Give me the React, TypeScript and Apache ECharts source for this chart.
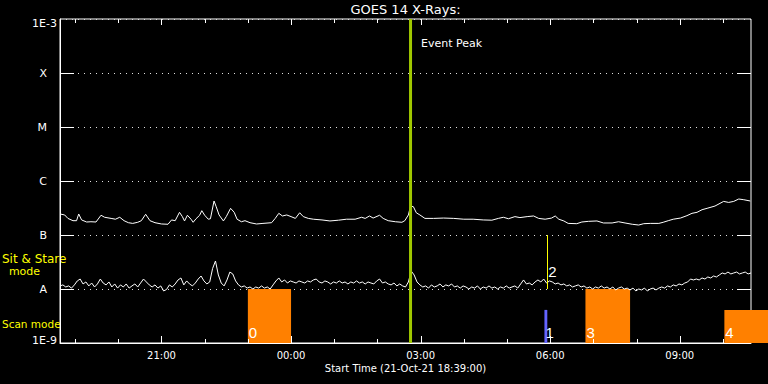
import { useEffect, useRef } from "react";
import * as echarts from "echarts";

// ---- axis definitions (x in minutes since start 21-Oct-21 18:39 UT) ----
const X_MIN = 0;
const X_MAX = 960;
const MAJOR_TICKS = [141, 321, 501, 681, 861];
const MAJOR_LABELS = ["21:00", "00:00", "03:00", "06:00", "09:00"];
const MINOR_TICKS = [21, 81, 201, 261, 381, 441, 561, 621, 741, 801, 921];
const Y_MIN = 1e-9;
const Y_MAX = 1e-3;
const Y_EXPONENTS = [-9, -8, -7, -6, -5, -4, -3];
const Y_LABELS = ["1E-9", "A", "B", "C", "M", "X", "1E-3"];

// ---- long channel (1-8 A), [minute, flux in 1e-7 W/m^2] ----
const LONG_CHANNEL_E7: [number, number][] = [
  [0, 2.45], [6.5, 2.35], [11, 2.03], [18, 1.84], [23, 1.84], [26, 2.45], [30, 1.9], [37, 1.74],
  [43, 1.76], [50, 1.74], [57, 2.32], [62, 2.13], [71, 2.03], [77, 1.96], [83, 2.13], [89, 1.84],
  [95, 1.69], [101, 1.64], [108, 1.72], [113, 1.84], [119, 2.42], [125, 1.84], [132, 1.69],
  [141, 1.6], [150, 1.58], [155, 1.9], [160, 1.84], [166, 2.63], [170, 2.19], [173, 1.82],
  [177, 2.32], [182, 1.96], [185, 1.72], [189, 2.0], [194, 2.32], [197, 2.82], [201, 2.32],
  [206, 1.96], [209, 2.0], [214, 4.26], [217, 3.34], [221, 2.35], [227, 1.82], [231, 2.19],
  [237, 3.12], [242, 2.63], [246, 1.96], [252, 1.76], [257, 1.84], [264, 1.69], [273, 1.6],
  [282, 1.64], [294, 1.69], [299, 2.03], [304, 2.52], [309, 2.25], [315, 2.35], [321, 2.19],
  [327, 2.03], [333, 2.58], [338, 2.19], [345, 2.03], [352, 1.96], [364, 1.9], [375, 1.82],
  [387, 1.88], [398, 1.96], [410, 1.96], [419, 2.13], [424, 2.03], [430, 2.25], [435, 2.06],
  [444, 2.32], [449, 2.03], [456, 1.84], [466, 1.76], [475, 1.72], [479, 1.84], [484, 2.35],
  [487, 3.44], [491, 3.34], [495, 2.58], [500, 2.35], [507, 2.03], [519, 2.03], [533, 2.06],
  [547, 2.03], [561, 1.96], [574, 1.96], [588, 1.9], [600, 1.88], [609, 2.03], [616, 2.13],
  [623, 2.0], [632, 2.19], [639, 2.1], [649, 2.19], [658, 2.25], [665, 2.03], [674, 1.96],
  [683, 2.06], [688, 2.25], [693, 1.96], [700, 1.82], [706, 1.64], [718, 1.62], [725, 1.74],
  [734, 1.79], [746, 1.82], [755, 1.67], [767, 1.67], [776, 1.76], [785, 1.67], [795, 1.58],
  [804, 1.53], [811, 1.62], [820, 1.64], [832, 1.64], [838, 1.72], [845, 1.84], [852, 1.96],
  [862, 2.06], [871, 2.28], [878, 2.52], [885, 2.63], [892, 2.94], [899, 3.12], [910, 3.44],
  [922, 4.19], [929, 4.01], [936, 4.19], [943, 4.64], [950, 4.5], [959, 4.26],
];

// ---- short channel (0.5-4 A), one sample every 4 minutes, flux in 1e-8 W/m^2 ----
const SHORT_CADENCE_MIN = 4;
const SHORT_CHANNEL_E8 = [
  1.14, 1.19, 1.09, 1.14, 1.04, 1.19, 1.41, 1.53, 1.24, 1.35,
  1.14, 1.29, 1.09, 1.24, 1.53, 1.29, 1.19, 1.35, 1.09, 1.24,
  1.04, 1.19, 1.09, 1.24, 1.04, 1.14, 1.24, 1.09, 1.29, 1.53,
  1.35, 1.19, 1.09, 1.19, 1.04, 1.14,
  0.92, 0.98, 1.19, 1.09,
  1.24, 1.47, 1.6, 1.19, 1.41, 1.24, 1.14, 1.29, 1.53, 1.74,
  1.41, 1.24, 1.35, 2.4, 3.3, 1.82, 1.29, 1.14, 1.47, 2.06,
  1.9, 1.41, 1.19, 1.09, 1.14, 1.04, 1.09, 1.0, 1.09, 1.04,
  1.14, 1.04, 1.09, 1.0, 1.19, 1.41, 1.6, 1.35, 1.47, 1.29,
  1.41, 1.35, 1.29, 1.41, 1.35, 1.29, 1.41, 1.35, 1.47, 1.53,
  1.35, 1.29, 1.41, 1.35, 1.24, 1.35, 1.29, 1.41, 1.29, 1.35,
  1.24, 1.35, 1.29, 1.41, 1.29, 1.35, 1.24, 1.35, 1.29, 1.24,
  1.41, 1.53, 1.29, 1.35, 1.24, 1.19, 1.29, 1.14, 1.24, 1.14,
  1.09, 1.35, 2.15, 1.82, 1.35, 1.19,
  1.09, 1.14, 1.04, 1.19,
  1.09, 1.14, 1.24, 1.09, 1.19, 1.14, 1.24, 1.09, 1.14, 1.04,
  1.14, 1.09, 1.0, 1.09, 1.04, 1.14, 1.0, 1.09, 1.04, 1.14,
  1.04, 1.09, 1.0, 1.09, 1.04, 1.14, 1.04, 1.09, 1.14, 1.04,
  1.24, 1.47, 1.24, 1.29, 1.19, 1.35,
  1.47, 1.35, 1.53, 1.29,
  1.41, 1.35, 1.24, 1.29, 1.19, 1.24, 1.14, 1.19, 1.09, 1.14,
  1.19, 1.09, 1.14, 1.04, 1.09, 1.0, 1.09, 1.04, 1.14, 1.04,
  1.09, 1.0, 1.09, 0.96, 1.04, 1.09, 1.0, 1.04, 0.96, 1.04,
  0.92, 1.0, 0.96, 1.04, 0.92, 1.0,
  1.04, 0.96, 1.04, 1.09,
  1.04, 1.14, 1.09, 1.19, 1.14, 1.24, 1.19, 1.29, 1.35, 1.53,
  1.47, 1.53, 1.47, 1.6, 1.53, 1.67, 1.6, 1.74, 1.67, 1.82,
  1.98, 1.9, 2.06, 1.9, 1.98, 2.06, 1.9, 1.98, 2.06, 1.9,
  1.98,
];

// ---- event and observing modes ----
const EVENT_PEAK_T = 487;
const MODE_START = [261, 673, 730, 923];
const MODE_END = [321, 677, 792, 985];
const MODE_TOP = [1e-8, 4.1e-9, 1e-8, 4.1e-9];
const MODE_KIND = ["scan", "mark", "scan", "scan"];
const MODE_LABEL = ["0", "1", "3", "4"];
const STARE_T = [677];
const STARE_LOW = [1e-8];
const STARE_HIGH = [1e-7];
const STARE_LABEL = ["2"];

const FONT = "DejaVu Sans";
const KIND_COLOR: Record<string, string> = { scan: "#ff8000", mark: "#6464ff" };

const px = (v: number) => Math.round(v) + 0.5;

export default function App() {
  const ref = useRef<HTMLDivElement>(null);

  useEffect(() => {
    if (!ref.current) return;
    const chart = echarts.init(ref.current, undefined, { renderer: "svg" });

    const longData = LONG_CHANNEL_E7.map(([t, v]) => [t, v * 1e-7]);
    const shortData = SHORT_CHANNEL_E8.map((v, i) => [i * SHORT_CADENCE_MIN, v * 1e-8]);
    const modeData = MODE_START.map((s, i) => [s, MODE_END[i], MODE_TOP[i], i]);
    const stareData = STARE_T.map((t, i) => [t, STARE_LOW[i], STARE_HIGH[i], i]);
    const xTickData = [
      ...MAJOR_TICKS.map((t) => [t, Y_MIN, 1]),
      ...MINOR_TICKS.map((t) => [t, Y_MIN, 0]),
    ];
    const yTickData = Y_EXPONENTS.slice(1, -1).map((e) => [X_MIN, Math.pow(10, e)]);

    const option: any = {
      animation: false,
      backgroundColor: "#000",
      textStyle: { fontFamily: FONT },
      grid: {
        left: 60,
        right: 17,
        top: 19,
        bottom: 41,
        show: true,
        borderColor: "#fff",
        borderWidth: 1,
      },
      xAxis: {
        type: "value",
        min: X_MIN,
        max: X_MAX,
        position: "bottom",
        splitLine: { show: false },
        axisLine: { show: true, lineStyle: { color: "#fff", width: 1 } },
        axisTick: { show: false },
        axisLabel: {
          show: true,
          customValues: MAJOR_TICKS,
          color: "#fff",
          fontSize: 10,
          fontFamily: FONT,
          margin: 7,
          formatter: (v: number) => {
            const k = MAJOR_TICKS.indexOf(Math.round(v));
            return k >= 0 ? MAJOR_LABELS[k] : "";
          },
        },
      },
      yAxis: {
        type: "log",
        logBase: 10,
        min: Y_MIN,
        max: Y_MAX,
        position: "left",
        axisLine: { show: true, lineStyle: { color: "#fff", width: 1 } },
        axisTick: { show: false },
        splitLine: { show: true, lineStyle: { color: "#e0e0e0", width: 1, type: [1, 5] } },
        axisLabel: {
          show: true,
          showMinLabel: false,
          showMaxLabel: false,
          color: "#fff",
          fontSize: 11,
          fontFamily: FONT,
          margin: 13,
          formatter: (v: number) => {
            const k = Y_EXPONENTS.indexOf(Math.round(Math.log10(v)));
            return k > 0 && k < Y_EXPONENTS.length - 1 ? Y_LABELS[k] : "";
          },
        },
      },
      series: [
        {
          type: "custom",
          clip: false,
          data: xTickData,
          encode: { x: 0, y: 1 },
          renderItem: (_p: any, api: any) => {
            const pb = api.coord([api.value(0), Y_MIN]);
            const pt = api.coord([api.value(0), Y_MAX]);
            const x = px(pb[0]);
            const major = api.value(2) === 1;
            const lb = major ? 7 : 4;
            const lt = major ? 6 : 4;
            return {
              type: "group",
              children: [
                {
                  type: "line",
                  shape: { x1: x, y1: pb[1], x2: x, y2: pb[1] - lb },
                  style: { stroke: "#ffffff", lineWidth: 1 },
                },
                {
                  type: "line",
                  shape: { x1: x, y1: pt[1], x2: x, y2: pt[1] + lt },
                  style: { stroke: "#ffffff", lineWidth: 1 },
                },
              ],
            };
          },
        },
        {
          type: "custom",
          clip: false,
          data: yTickData,
          encode: { x: 0, y: 1 },
          renderItem: (_p: any, api: any) => {
            const pl = api.coord([X_MIN, api.value(1)]);
            const pr = api.coord([X_MAX, api.value(1)]);
            const y = px(pl[1]);
            return {
              type: "group",
              children: [
                {
                  type: "line",
                  shape: { x1: pl[0], y1: y, x2: pl[0] + 14, y2: y },
                  style: { stroke: "#ffffff", lineWidth: 1 },
                },
                {
                  type: "line",
                  shape: { x1: pr[0] - 14, y1: y, x2: pr[0], y2: y },
                  style: { stroke: "#ffffff", lineWidth: 1 },
                },
              ],
            };
          },
        },
        {
          type: "custom",
          clip: false,
          z: 1,
          data: modeData,
          encode: { x: [0, 1], y: 2 },
          renderItem: (_p: any, api: any) => {
            const i = api.value(3);
            const p0 = api.coord([api.value(0), api.value(2)]);
            const p1 = api.coord([api.value(1), Y_MIN]);
            return {
              type: "group",
              children: [
                {
                  type: "rect",
                  shape: { x: p0[0], y: p0[1], width: p1[0] - p0[0], height: p1[1] - p0[1] },
                  style: { fill: KIND_COLOR[MODE_KIND[i]] },
                },
                {
                  type: "text",
                  x: p0[0] + 1,
                  y: p1[1] - 10.5,
                  style: {
                    text: MODE_LABEL[i],
                    fill: "#fff",
                    fontSize: 15,
                    fontFamily: "Liberation Sans",
                    textVerticalAlign: "middle",
                    textAlign: "left",
                  },
                },
              ],
            };
          },
        },
        {
          type: "line",
          data: longData,
          showSymbol: false,
          symbol: "none",
          z: 2,
          lineStyle: { color: "#fff", width: 1 },
        },
        {
          type: "line",
          data: shortData,
          showSymbol: false,
          symbol: "none",
          z: 2,
          lineStyle: { color: "#fff", width: 1 },
        },
        {
          type: "line",
          data: [
            [EVENT_PEAK_T, Y_MIN],
            [EVENT_PEAK_T, Y_MAX],
          ],
          showSymbol: false,
          symbol: "none",
          z: 4,
          lineStyle: { color: "#a0c800", width: 3 },
        },
        {
          type: "custom",
          clip: false,
          z: 5,
          data: stareData,
          encode: { x: 0, y: [1, 2] },
          renderItem: (_p: any, api: any) => {
            const i = api.value(3);
            const lo = api.coord([api.value(0), api.value(1)]);
            const hi = api.coord([api.value(0), api.value(2)]);
            return {
              type: "group",
              children: [
                {
                  type: "line",
                  shape: { x1: px(lo[0]), y1: lo[1], x2: px(hi[0]), y2: hi[1] },
                  style: { stroke: "#ffff00", lineWidth: 1 },
                },
                {
                  type: "text",
                  x: lo[0] + 1,
                  y: lo[1] - 17.5,
                  style: {
                    text: STARE_LABEL[i],
                    fill: "#fff",
                    fontSize: 15,
                    fontFamily: "Liberation Sans",
                    textVerticalAlign: "middle",
                    textAlign: "left",
                  },
                },
              ],
            };
          },
        },
      ],
      graphic: [
        {
          type: "text",
          x: 405.5,
          y: 9,
          style: { text: "GOES 14 X-Rays:", fill: "#fff", fontSize: 13, fontFamily: FONT, textAlign: "center", textVerticalAlign: "middle" },
        },
        {
          type: "text",
          x: 421,
          y: 43,
          style: { text: "Event Peak", fill: "#fff", fontSize: 11, fontFamily: FONT, textAlign: "left", textVerticalAlign: "middle" },
        },
        {
          type: "text",
          x: 405.5,
          y: 368,
          style: { text: "Start Time (21-Oct-21 18:39:00)", fill: "#fff", fontSize: 10, fontFamily: FONT, textAlign: "center", textVerticalAlign: "middle" },
        },
        {
          type: "text",
          x: 57,
          y: 23,
          style: { text: Y_LABELS[Y_LABELS.length - 1], fill: "#fff", fontSize: 11, fontFamily: FONT, textAlign: "right", textVerticalAlign: "middle" },
        },
        {
          type: "text",
          x: 57,
          y: 340,
          style: { text: Y_LABELS[0], fill: "#fff", fontSize: 11, fontFamily: FONT, textAlign: "right", textVerticalAlign: "middle" },
        },
        {
          type: "text",
          x: 2,
          y: 259,
          style: { text: "Sit & Stare", fill: "#ffff00", fontSize: 12, fontFamily: FONT, textAlign: "left", textVerticalAlign: "middle" },
        },
        {
          type: "text",
          x: 24.5,
          y: 271,
          style: { text: "mode", fill: "#ffff00", fontSize: 11, fontFamily: FONT, textAlign: "center", textVerticalAlign: "middle" },
        },
        {
          type: "text",
          x: 2,
          y: 324,
          style: { text: "Scan mode", fill: "#ffff00", fontSize: 10.5, fontFamily: FONT, textAlign: "left", textVerticalAlign: "middle" },
        },
      ],
    };

    chart.setOption(option);
    return () => chart.dispose();
  }, []);

  return (
    <div
      ref={ref}
      style={{ position: "fixed", left: 0, top: 0, width: 768, height: 384, background: "#000" }}
    />
  );
}
